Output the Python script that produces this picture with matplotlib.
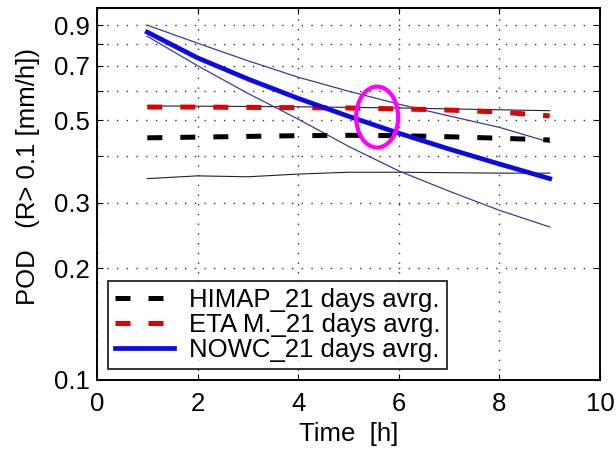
import matplotlib
matplotlib.use("Agg")
import matplotlib.pyplot as plt
from matplotlib.patches import Ellipse
from matplotlib.ticker import FixedLocator, NullFormatter, NullLocator

plt.rcParams['font.family'] = ['Liberation Sans', 'DejaVu Sans']

hours = [1, 2, 3, 4, 5, 6, 7, 8, 9]

himap_avg = [0.448, 0.450, 0.452, 0.454, 0.455, 0.454, 0.451, 0.447, 0.442]
eta_avg = [0.542, 0.542, 0.541, 0.540, 0.539, 0.536, 0.532, 0.526, 0.513]
nowc_avg = [0.862, 0.735, 0.645, 0.572, 0.512, 0.461, 0.418, 0.381, 0.348]

nowc_hi = [0.900, 0.805, 0.722, 0.652, 0.598, 0.552, 0.513, 0.478, 0.436]
nowc_lo = [0.840, 0.700, 0.590, 0.503, 0.425, 0.365, 0.322, 0.286, 0.258]
himap_hi = [0.546, 0.545, 0.544, 0.543, 0.541, 0.539, 0.536, 0.533, 0.530]
himap_lo = [0.348, 0.354, 0.352, 0.358, 0.362, 0.362, 0.361, 0.360, 0.360]

fig = plt.figure(figsize=(6.16, 4.54), dpi=100)
ax = fig.add_axes([0.1575, 0.163, 0.8165, 0.819])

# thin envelope lines
ax.plot(hours, himap_lo, color="#222222", lw=0.8)
ax.plot(hours, himap_hi, color="#222222", lw=0.8)
ax.plot(hours, nowc_hi, color="#3838b0", lw=0.9)
ax.plot(hours, nowc_lo, color="#3838b0", lw=0.9)

# averages
ax.plot(hours, himap_avg, color="black", lw=3.6, dashes=[3.0, 3.6],
        label="HIMAP_21 days avrg.")
ax.plot(hours, eta_avg, color="#e00000", lw=3.6, dashes=[3.0, 3.6],
        label="ETA M._21 days avrg.")
ax.plot(hours, nowc_avg, color="#0a0ae6", lw=3.4,
        label="NOWC_21 days avrg.")

ax.add_patch(Ellipse((0.557, 0.707), 0.0835, 0.164, transform=ax.transAxes,
                     fill=False, edgecolor="#ff00ff", lw=3.0, zorder=5))

ax.set_yscale("log")
ax.set_xlim(0, 10)
ax.set_ylim(0.1, 1.0)
ax.set_xticks([0, 2, 4, 6, 8, 10])
ax.yaxis.set_major_locator(FixedLocator([0.1, 0.2, 0.3, 0.5, 0.7, 0.9]))
ax.yaxis.set_minor_locator(FixedLocator([0.4, 0.6, 0.8]))
ax.yaxis.set_minor_formatter(NullFormatter())
ax.set_yticklabels(["0.1", "0.2", "0.3", "0.5", "0.7", "0.9"])
ax.xaxis.set_minor_locator(NullLocator())

ax.grid(True, which="both", color="#333333", linestyle=(0, (1, 6)), lw=1.0)
ax.tick_params(which="both", direction="in", top=True, right=True,
               labelsize=18.5, length=4, width=0.8)
ax.tick_params(axis="x", pad=9)
ax.tick_params(axis="y", pad=5)
for s in ax.spines.values():
    s.set_linewidth(1.4)

ax.set_xlabel("Time  [h]", fontsize=18.5, labelpad=4)
fig.text(0.045, 0.612, "POD   (R> 0.1 [mm/h])", rotation=90, fontsize=18.5,
         ha="center", va="center")

leg = ax.legend(loc="lower left", bbox_to_anchor=(0.022, 0.03), fontsize=18.5,
                frameon=True, fancybox=False, edgecolor="black",
                handlelength=2.3, handletextpad=0.6, borderpad=0.25,
                labelspacing=0.05, borderaxespad=0)
leg.get_frame().set_linewidth(1.4)

fig.savefig("out.png", dpi=100)
